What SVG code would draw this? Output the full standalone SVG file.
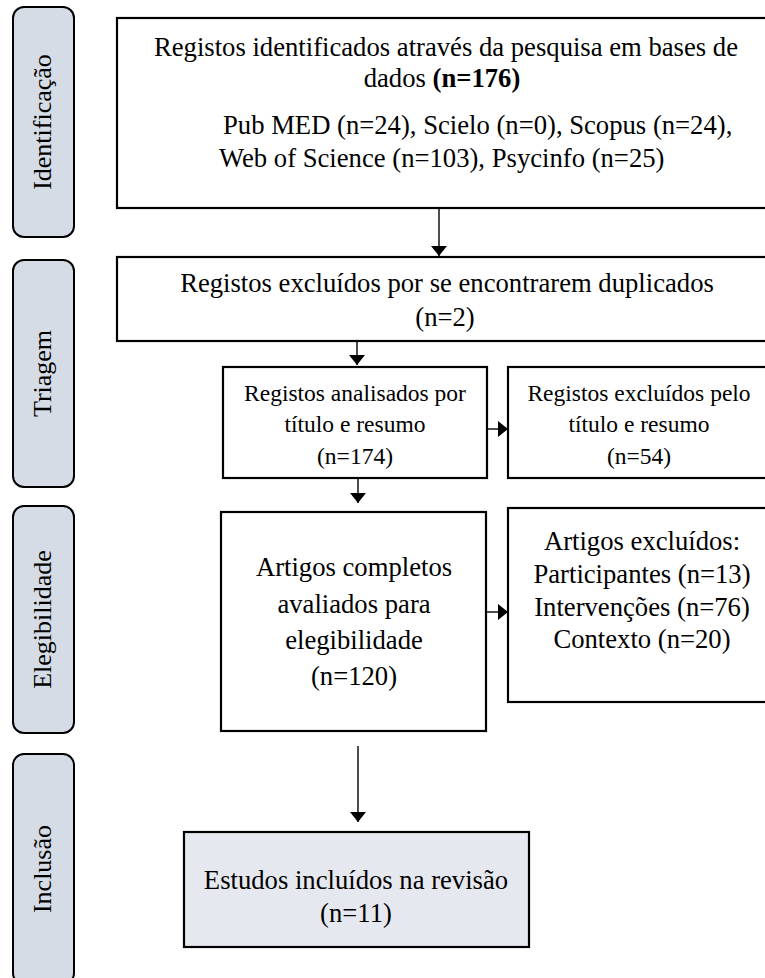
<svg xmlns="http://www.w3.org/2000/svg" width="765" height="978" viewBox="0 0 765 978">
<style>
  .phase { fill: #d6dce5; stroke: #000; stroke-width: 2; }
  .box { fill: #fff; stroke: #000; stroke-width: 2.2; }
  .final { fill: #e6e8ef; stroke: #000; stroke-width: 2.2; }
  text { font-family: "Liberation Serif", "Times New Roman", serif; fill: #000; }
  .t { font-size: 26.67px; text-anchor: middle; }
  .ts { font-size: 23.5px; text-anchor: middle; }
  .tl { font-size: 26.67px; text-anchor: start; }
  .ph { font-size: 26px; text-anchor: middle; }
  .conn { stroke: #000; stroke-width: 1.4; fill: none; marker-end: url(#arrow); }
</style>
<defs>
  <marker id="arrow" viewBox="0 0 10 16" refX="10" refY="8" markerWidth="10" markerHeight="16" markerUnits="userSpaceOnUse" orient="auto">
    <path d="M0,0 L10,8 L0,16 Z" fill="#000"/>
  </marker>
</defs>
<rect width="765" height="978" fill="#fff"/>

<g id="phase-identificacao">
  <rect class="phase" x="13" y="7" width="61" height="230" rx="11"/>
  <text class="ph" transform="translate(51,122) rotate(-90)">Identificação</text>
</g>
<g id="phase-triagem">
  <rect class="phase" x="13" y="260" width="61" height="227" rx="11"/>
  <text class="ph" transform="translate(51,373.5) rotate(-90)">Triagem</text>
</g>
<g id="phase-elegibilidade">
  <rect class="phase" x="13" y="506" width="61" height="227" rx="11"/>
  <text class="ph" transform="translate(51,619.5) rotate(-90)">Elegibilidade</text>
</g>
<g id="phase-inclusao">
  <rect class="phase" x="13" y="754" width="61" height="230" rx="11"/>
  <text class="ph" transform="translate(51,869) rotate(-90)">Inclusão</text>
</g>

<g id="node-identificados">
  <rect class="box" x="117" y="18" width="660" height="190"/>
  <text class="t" x="446" y="56">Registos identificados através da pesquisa em bases de</text>
  <text class="t" x="442" y="87">dados <tspan font-weight="bold">(n=176)</tspan></text>
  <text class="tl" x="223" y="134">Pub MED (n=24), Scielo (n=0), Scopus (n=24),</text>
  <text class="tl" x="219" y="167">Web of Science (n=103), Psycinfo (n=25)</text>
</g>

<g id="node-duplicados">
  <rect class="box" x="117" y="257" width="660" height="84"/>
  <text class="t" x="447" y="292">Registos excluídos por se encontrarem duplicados</text>
  <text class="t" x="445" y="326">(n=2)</text>
</g>

<g id="node-analisados">
  <rect class="box" x="223" y="367" width="264" height="111"/>
  <text class="ts" x="355" y="401">Registos analisados por</text>
  <text class="ts" x="355" y="432">título e resumo</text>
  <text class="ts" x="355" y="464">(n=174)</text>
</g>

<g id="node-excluidos-titulo">
  <rect class="box" x="508" y="367" width="264" height="111"/>
  <text class="ts" x="639" y="401">Registos excluídos pelo</text>
  <text class="ts" x="639" y="432">título e resumo</text>
  <text class="ts" x="639" y="464">(n=54)</text>
</g>

<g id="node-completos">
  <rect class="box" x="221" y="512" width="265" height="219"/>
  <text class="t" x="354" y="576">Artigos completos</text>
  <text class="t" x="354" y="613">avaliados para</text>
  <text class="t" x="354" y="649">elegibilidade</text>
  <text class="t" x="354" y="685">(n=120)</text>
</g>

<g id="node-artigos-excluidos">
  <rect class="box" x="508" y="508" width="268" height="194"/>
  <text class="t" x="642" y="550">Artigos excluídos:</text>
  <text class="t" x="642" y="583">Participantes (n=13)</text>
  <text class="t" x="642" y="616">Intervenções (n=76)</text>
  <text class="t" x="642" y="648">Contexto (n=20)</text>
</g>

<g id="node-incluidos">
  <rect class="final" x="184" y="832" width="345" height="115"/>
  <text class="t" x="356" y="889">Estudos incluídos na revisão</text>
  <text class="t" x="356" y="922">(n=11)</text>
</g>

<g id="connectors">
  <line class="conn" x1="439" y1="208" x2="439" y2="256"/>
  <line class="conn" x1="357" y1="341" x2="357" y2="365"/>
  <line class="conn" x1="487" y1="429" x2="508" y2="429"/>
  <line class="conn" x1="358" y1="478" x2="358" y2="503"/>
  <line class="conn" x1="486" y1="612" x2="508" y2="612"/>
  <line class="conn" x1="358" y1="746" x2="358" y2="822"/>
</g>
</svg>
